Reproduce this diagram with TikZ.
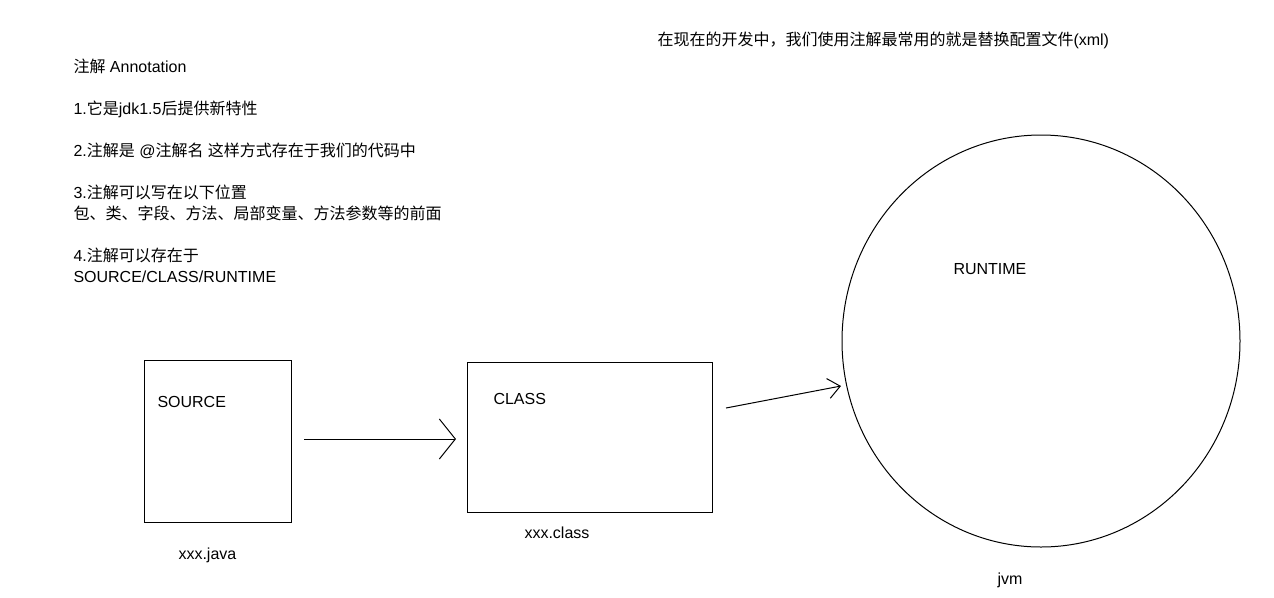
\documentclass[tikz,border=0pt]{standalone}
\usepackage{fontspec}
\setmainfont{Liberation Sans}
\newfontfamily\cjk{Noto Sans CJK SC}
\newcommand\zh[1]{{\cjk #1}}
\usetikzlibrary{arrows.meta, shapes.geometric, positioning}

\begin{document}
\begin{tikzpicture}[x=0.75pt, y=-0.75pt, line width=0.75pt,
    every node/.style={inner sep=0pt, font=\fontsize{12}{14}\selectfont},
    txt/.style={anchor=base west},
    box/.style={draw, rectangle, anchor=north west},
    bigarrow/.style={-{Straight Barb[length=12pt, width=30pt, line width=0.75pt]}},
    smallarrow/.style={-{Straight Barb[length=9pt, width=15pt, line width=0.75pt]}}]
    \useasboundingbox[fill=white] (0,0) rectangle (1274,597);

    \node[txt] (title) at (73,72) {\zh{注解} Annotation};
    \node[txt] (p1) at (73,114) {1.\zh{它是}jdk1.5\zh{后提供新特性}};
    \node[txt] (p2) at (73,156) {2.\zh{注解是} @\zh{注解名} \zh{这样方式存在于我们的代码中}};
    \node[txt] (p3) at (73,198) {3.\zh{注解可以写在以下位置}};
    \node[txt] (p3b) at (73,219) {\zh{包、类、字段、方法、局部变量、方法参数等的前面}};
    \node[txt] (p4) at (73,261) {4.\zh{注解可以存在于}};
    \node[txt] (p4b) at (73,282) {SOURCE/CLASS/RUNTIME};
    \node[txt] (note) at (657,45) {\zh{在现在的开发中，我们使用注解最常用的就是替换配置文件}(xml)};

    \node[box, minimum width=110pt, minimum height=121.5pt] (src) at (144,360) {};
    \node[txt] (srcl) at (157,407) {SOURCE};
    \node[txt] (java) at (178,559) {xxx.java};

    \node[box, minimum width=183.75pt, minimum height=112.5pt] (cls) at (467,362) {};
    \node[txt] (clsl) at (493,404) {CLASS};
    \node[txt] (clsf) at (524,538) {xxx.class};

    \node[draw, ellipse, minimum width=298.5pt, minimum height=309pt] (rt) at (1041,341) {};
    \node[txt] (rtl) at (953,274) {RUNTIME};
    \node[txt] (jvm) at (997,584) {jvm};

    \coordinate (a1) at (304,439);
    \coordinate (b1) at (456,439);
    \coordinate (a2) at (726,408);
    \coordinate (b2) at (841,386);

    \draw
    (a1) edge[bigarrow] (b1)
    (a2) edge[smallarrow] (b2);
\end{tikzpicture}
\end{document}
